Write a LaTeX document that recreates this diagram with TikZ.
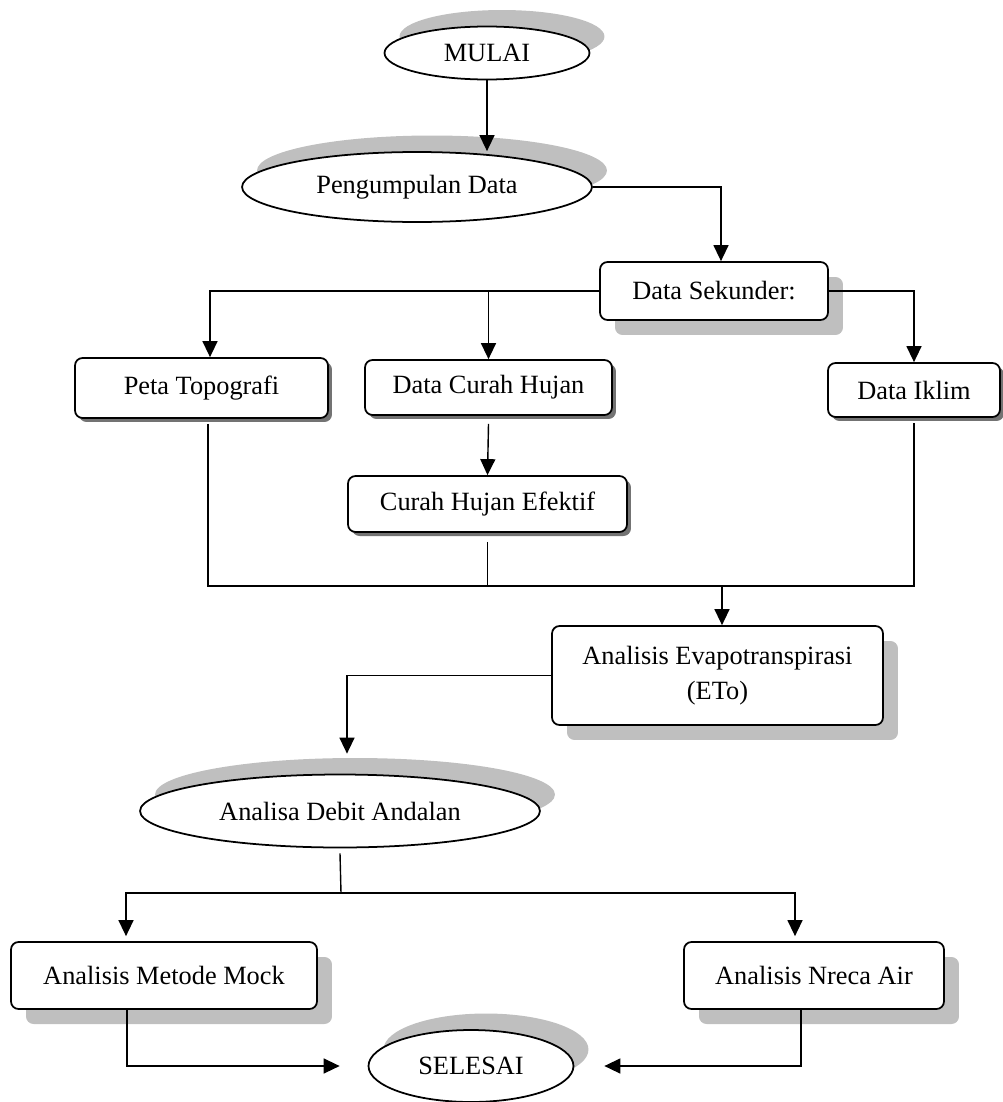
\documentclass[tikz,border=0pt]{standalone}
\usepackage{fontspec}
\setmainfont{Liberation Serif}
\usetikzlibrary{shapes.geometric,arrows.meta,shadows}

\tikzset{
  oval/.style={ellipse, draw, line width=1pt, fill=white, inner sep=0pt,
    drop shadow={shadow xshift=0.3cm, shadow yshift=0.33cm, fill=black!25, opacity=1}},
  kotak/.style={rectangle, rounded corners=0.15cm, draw, line width=1pt, fill=white, inner sep=0pt,
    drop shadow={shadow xshift=0.3cm, shadow yshift=-0.3cm, fill=black!25, opacity=1}},
  kotakkecil/.style={rectangle, rounded corners=0.15cm, draw, line width=1pt, fill=white, inner sep=0pt,
    drop shadow={shadow xshift=0.08cm, shadow yshift=-0.08cm, fill=black!55, opacity=1}},
  panah/.style={-{Triangle[length=0.32cm,width=0.3cm]}},
}

\begin{document}
\begin{tikzpicture}[x=0.02cm, y=-0.02cm, line width=0.8pt, font=\fontsize{15}{20}\selectfont]
    \useasboundingbox (0,0) rectangle (1002,1102);
    % mulai
    \node[oval, minimum width=4.1cm, minimum height=1.06cm] (mulai) at (487,53) {MULAI};
    % pengumpulan data
    \node[oval, minimum width=7cm, minimum height=1.4cm] (kumpul) at (417,187) {Pengumpulan Data};
    \draw[panah] (mulai.south) -- (mulai.south |- kumpul.north);
    % data sekunder
    \node[kotak, minimum width=4.56cm, minimum height=1.16cm] (sekunder) at (714,291) {Data Sekunder:};
    \draw[panah] (kumpul.east) -| ([xshift=0.14cm]sekunder.north);
    % tiga data masukan
    \node[kotakkecil, minimum width=5.06cm, minimum height=1.2cm] (peta) at (201.5,388) {Peta Topografi};
    \node[kotakkecil, minimum width=4.94cm, minimum height=1.1cm] (curah) at (488.5,387.5) {Data Curah Hujan};
    \node[kotakkecil, minimum width=3.44cm, minimum height=1.08cm] (iklim) at (914,390) {Data Iklim};
    \draw[panah] (sekunder.west) -| ([xshift=0.17cm]peta.north);
    \draw[panah] (sekunder.west -| curah.north) -- (curah.north);
    \draw[panah] (sekunder.east) -| (iklim.north);
    % curah hujan efektif
    \node[kotakkecil, minimum width=5.58cm, minimum height=1.12cm] (efektif) at (487.5,504) {Curah Hujan Efektif};
    \draw[panah] ([yshift=-0.16cm]curah.south) -- (efektif.north);
    % garis gabungan
    \coordinate (gabung) at (722,586);
    \draw ([xshift=0.13cm,yshift=-0.1cm]peta.south) |- (gabung) -| ([yshift=-0.1cm]iklim.south);
    \draw ([yshift=-0.18cm]efektif.south) -- (efektif.south |- gabung);
    % evapotranspirasi
    \node[kotak, align=center, minimum width=6.62cm, minimum height=1.98cm] (eto) at (717.5,675.5) {Analisis Evapotranspirasi\\(ETo)};
    \draw[panah] (gabung) -- (gabung |- eto.north);
    % debit andalan
    \node[oval, minimum width=8cm, minimum height=1.46cm] (debit) at (340,811) {Analisa Debit Andalan};
    \draw[panah] (eto.west) -| ([xshift=0.14cm,yshift=0.4cm]debit.north);
    % dua metode
    \coordinate (cabang) at (341,893);
    \node[kotak, minimum width=6.12cm, minimum height=1.34cm] (mock) at (164,975.5) {Analisis Metode Mock};
    \node[kotak, minimum width=5.2cm, minimum height=1.34cm] (nreca) at (814,975.5) {Analisis Nreca Air};
    \draw ([yshift=-0.1cm]debit.south) -- (cabang);
    \draw[panah] (cabang) -| ([xshift=-0.76cm,yshift=0.1cm]mock.north);
    \draw[panah] (cabang) -| ([xshift=-0.38cm,yshift=0.1cm]nreca.north);
    % selesai
    \node[oval, minimum width=4.1cm, minimum height=1.44cm] (selesai) at (471,1066) {SELESAI};
    \draw[panah] ([xshift=-0.74cm]mock.south) |- ([xshift=-0.56cm]selesai.west);
    \draw[panah] ([xshift=-0.26cm]nreca.south) |- ([xshift=0.6cm]selesai.east);
\end{tikzpicture}
\end{document}
